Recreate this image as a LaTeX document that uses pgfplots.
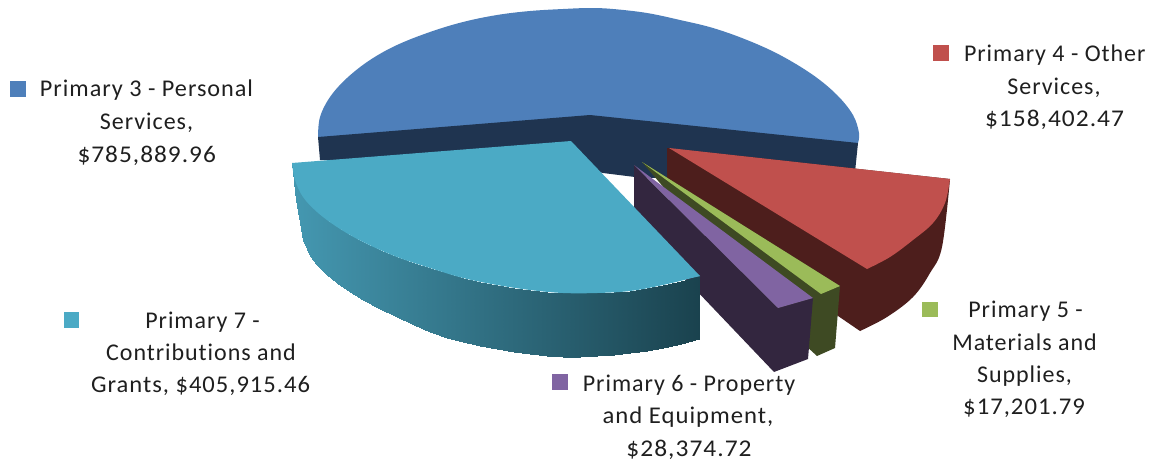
\documentclass[border=0pt]{standalone}
\usepackage{graphicx}
\usepackage{pgfplots}
\pgfplotsset{compat=1.18}
\usepackage{fontspec}
\setmainfont{Carlito}[LetterSpace=4,Ligatures=NoCommon]
\definecolor{blueTop}{RGB}{78,127,186}
\definecolor{blueSide}{RGB}{31,52,80}
\definecolor{redTop}{RGB}{192,80,77}
\definecolor{redSide}{RGB}{77,30,28}
\definecolor{greenTop}{RGB}{155,187,89}
\definecolor{greenSide}{RGB}{62,74,35}
\definecolor{purpleTop}{RGB}{128,100,162}
\definecolor{purpleSide}{RGB}{51,38,63}
\definecolor{tealTop}{RGB}{75,170,197}
% one line of a data label: [horizontal stretch]{x}{baseline y}{text}
\newcommand{\lbl}[4][1]{\node[anchor=base,inner sep=0pt,text=black!88,font=\fontsize{24}{24}\selectfont] at (axis cs:#2,#3) {\scalebox{#1}[1]{#4}};}
\newcommand{\key}[3]{\addplot[only marks, mark=square*, mark size=7.3pt, color=#1] coordinates {(#2,#3)};}
\begin{document}
\begin{tikzpicture}
\useasboundingbox (0,0) rectangle (1155pt,464pt);
\begin{axis}[
  scale only axis, width=1155pt, height=464pt,
  xmin=0, xmax=1155, ymin=0, ymax=464, y dir=reverse,
  hide axis, clip=false,
  colormap={tealside}{rgb255(0)=(68,151,176) rgb255(1)=(26,66,78)},
  point meta min=296, point meta max=700,
]
% Personal Services: outer arc, then the cut-away wall painted over its chord
\addplot[fill=blueTop, draw=none, smooth, tension=0.6] coordinates {
  (318,137) (320,117) (330,97) (347,78) (370,60) (397,45) (430,32) (463,22) (497,15)
  (530,11) (563,9) (590,8) (613,9) (647,13) (680,20) (713,28) (747,40) (780,55)
  (813,75) (837,95) (853,115) (859,133) (858,143)};
\addplot[fill=blueSide, draw=none] coordinates {
  (318,137) (590,115) (858,143) (855,172) (700,180) (635,177) (603,173) (570,165) (320,160)};
% Other Services
\addplot[fill=redSide, draw=none, smooth, tension=0.6] coordinates {
  (950,179) (942,247) (930,273) (913,297) (887,317) (860,331)};
\addplot[fill=redSide, draw=none] coordinates {
  (667,148) (950,179) (925,265) (895,300) (860,331) (800,290) (667,178)};
\addplot[fill=redTop, draw=none, smooth, tension=0.6] coordinates {
  (950,179) (945,203) (933,223) (913,240) (890,257) (867,269)};
\addplot[fill=redTop, draw=none] coordinates {
  (669,148) (950,179) (938,208) (910,236) (867,269)};
% Materials and Supplies
\addplot[fill=greenSide, draw=none] coordinates {
  (642,162) (840,286) (835,348) (817,356) (805,345) (700,230)};
\addplot[fill=greenTop, draw=none] coordinates {
  (642,162) (840,286) (821,294)};
% Property and Equipment
\addplot[fill=purpleSide, draw=none] coordinates {
  (634,165) (778,308) (813,298) (808,359) (774,372) (634,225)};
\addplot[fill=purpleTop, draw=none] coordinates {
  (634,165) (813,298) (778,308)};
% Contributions and Grants: rim shaded from left to right
\addplot[patch, patch type=rectangle, shader=interp, point meta=x] table {
x y
292 163
292 163
296 200
296 178
296 178
296 200
303 240
303 197
303 197
303 240
310 256
310 205
310 205
310 256
317 265
317 212
317 212
317 265
327 274.5
327 220
327 220
327 274.5
337 283
337 227
337 227
337 283
350 292
350 234.5
350 234.5
350 292
363 300
363 242
363 242
363 300
380 309
380 249.8
380 249.8
380 309
397 317
397 257
397 257
397 317
413.5 325
413.5 262.8
413.5 262.8
413.5 325
430 332
430 268
430 268
430 332
446.5 337.5
446.5 273.3
446.5 273.3
446.5 337.5
463 342
463 278
463 278
463 342
480 346
480 281.8
480 281.8
480 346
497 349
497 285
497 285
497 349
513.5 352
513.5 287.8
513.5 287.8
513.5 352
530 354
530 290
530 290
530 354
546.5 356
546.5 291.8
546.5 291.8
546.5 356
563 357
563 293
563 293
563 357
580 357
580 293.3
580 293.3
580 357
597 356
597 293
597 293
597 356
613.5 355
613.5 292.4
613.5 292.4
613.5 355
630 353
630 291
630 291
630 353
646.5 351
646.5 288.4
646.5 288.4
646.5 351
663 348
663 285
663 285
663 348
681 344
681 281
681 281
681 344
699 339
699 276
};
\addplot[fill=tealTop, draw=none, smooth, tension=0.6] coordinates {
  (292,163) (295,180) (303,197) (317,212) (337,227) (363,242) (397,257) (430,268)
  (463,278) (497,285) (530,290) (563,293) (597,293) (630,291) (663,285) (700,276)};
\addplot[fill=tealTop, draw=none] coordinates {
  (292,163) (571,141) (700,276) (630,288) (530,287) (430,265) (340,226) (305,195)};
% Legend keys beside the labels
\key{blueTop}{17.5}{88.5}
\key{redTop}{940.5}{52.5}
\key{greenTop}{929.5}{309}
\key{purpleTop}{559.5}{381.5}
\key{tealTop}{71}{319.5}
% Labels
\lbl[1.01]{146.5}{96}{Primary 3 - Personal}
\lbl{146.5}{129}{Services,}
\lbl[1.055]{146.7}{162}{\$785,889.96}
\lbl{1054.7}{61}{Primary 4 - Other}
\lbl{1054}{94}{Services,}
\lbl[1.06]{1054.5}{126.7}{\$158,402.47}
\lbl{1025.5}{317.5}{Primary 5 -}
\lbl{1024.5}{350}{Materials and}
\lbl{1024.5}{382.7}{Supplies,}
\lbl[1.03]{1024}{414}{\$17,201.79}
\lbl{689}{391}{Primary 6 - Property}
\lbl[1.03]{688}{423}{and Equipment,}
\lbl[1.06]{689}{456}{\$28,374.72}
\lbl{202.5}{328}{Primary 7 -}
\lbl{201}{360}{Contributions and}
\lbl[1.025]{200.5}{392}{Grants, \$405,915.46}
\end{axis}
\end{tikzpicture}
\end{document}
